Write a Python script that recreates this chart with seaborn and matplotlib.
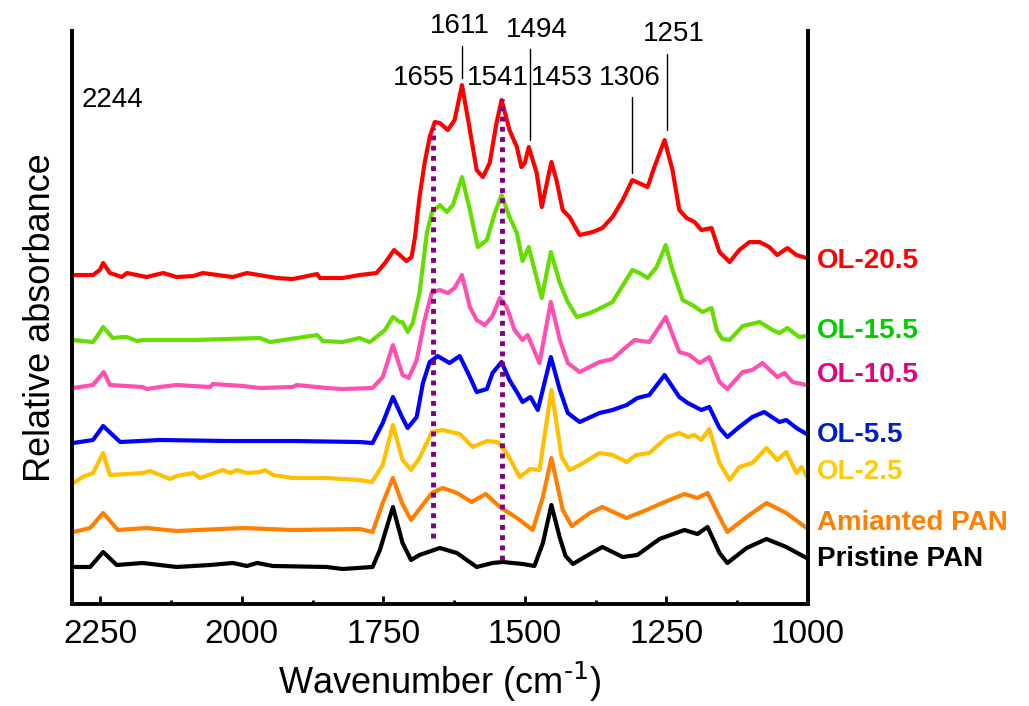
import pandas as pd
import matplotlib
matplotlib.use('Agg')
import matplotlib.pyplot as plt
import seaborn as sns

# FTIR spectra (wavenumber in cm-1, offset absorbance in a.u.)
pristine_wn = [2298, 2268, 2245, 2221, 2175, 2115, 2056, 2016, 1991, 1973, 1945, 1850, 1822, 1769,
               1756, 1733, 1716, 1701, 1686, 1650, 1620, 1585, 1557, 1539, 1504, 1483, 1468, 1453,
               1438, 1428, 1415, 1385, 1363, 1327, 1301, 1262, 1218, 1195, 1177, 1156, 1142, 1108,
               1073, 1038, 1002]
pristine_abs = [.37, .37, .52, .39, .41, .37, .39, .41, .38, .41, .38, .37, .35, .37,
                .54, .97, .61, .44, .49, .56, .51, .37, .41, .42, .40, .38, .61, .99,
                .66, .48, .40, .50, .57, .47, .49, .65, .74, .70, .77, .51, .41, .56,
                .65, .57, .46]

amianted_wn = [2298, 2268, 2245, 2219, 2168, 2115, 1998, 1910, 1792, 1769, 1751, 1733, 1717, 1701,
               1664, 1645, 1620, 1594, 1569, 1544, 1514, 1486, 1468, 1453, 1433, 1417, 1385, 1363,
               1320, 1285, 1257, 1218, 1195, 1177, 1156, 1142, 1108, 1073, 1038, 1002]
amianted_abs = [.72, .76, .91, .74, .76, .73, .76, .74, .75, .72, 1.01, 1.26, 1.01, .84,
                1.11, 1.16, 1.11, 1.02, 1.10, .97, .86, .74, 1.07, 1.46, .94, .78, .91, .97,
                .86, .94, 1.01, 1.10, 1.06, 1.11, .87, .72, .87, 1.01, .91, .76]

ol25_wn = [2298, 2281, 2263, 2245, 2233, 2175, 2162, 2127, 2115, 2086, 2074, 2033, 2021, 2009,
           1991, 1968, 1959, 1945, 1910, 1850, 1792, 1770, 1751, 1733, 1716, 1701, 1686, 1664,
           1645, 1615, 1592, 1567, 1548, 1532, 1509, 1491, 1474, 1453, 1435, 1421, 1403, 1368,
           1345, 1320, 1303, 1280, 1248, 1227, 1212, 1200, 1188, 1174, 1156, 1138, 1121, 1098,
           1073, 1054, 1038, 1020, 1011, 1002]
ol25_abs = [1.21, 1.27, 1.31, 1.51, 1.29, 1.31, 1.33, 1.25, 1.28, 1.31, 1.26, 1.34, 1.31, 1.34,
            1.31, 1.32, 1.34, 1.29, 1.26, 1.26, 1.24, 1.22, 1.39, 1.79, 1.44, 1.34, 1.46, 1.72,
            1.74, 1.70, 1.57, 1.63, 1.62, 1.51, 1.27, 1.35, 1.34, 2.14, 1.47, 1.34, 1.39, 1.51,
            1.49, 1.42, 1.49, 1.51, 1.67, 1.71, 1.67, 1.69, 1.64, 1.75, 1.41, 1.24, 1.37, 1.41,
            1.56, 1.44, 1.52, 1.31, 1.37, 1.28]

ol55_wn = [2298, 2263, 2245, 2215, 2145, 2026, 1910, 1792, 1769, 1751, 1733, 1717, 1707, 1691,
           1680, 1668, 1654, 1633, 1615, 1597, 1585, 1567, 1557, 1541, 1527, 1513, 1504, 1490,
           1477, 1454, 1438, 1424, 1403, 1368, 1345, 1320, 1301, 1280, 1253, 1227, 1212, 1188,
           1174, 1156, 1142, 1121, 1098, 1077, 1050, 1038, 1020, 1002]
ol55_abs = [1.61, 1.64, 1.78, 1.62, 1.64, 1.63, 1.63, 1.62, 1.61, 1.81, 2.07, 1.87, 1.76, 1.87,
            2.21, 2.42, 2.48, 2.41, 2.48, 2.27, 2.12, 2.15, 2.31, 2.42, 2.24, 2.11, 2.02, 2.07,
            1.94, 2.47, 2.14, 1.91, 1.82, 1.91, 1.94, 1.99, 2.06, 2.09, 2.29, 2.07, 2.01, 1.94,
            1.97, 1.76, 1.67, 1.77, 1.87, 1.92, 1.82, 1.84, 1.76, 1.70]

ol105_wn = [2298, 2263, 2244, 2233, 2175, 2168, 2145, 2115, 2056, 2051, 1998, 1968, 1910, 1903,
            1850, 1822, 1769, 1751, 1733, 1716, 1705, 1691, 1677, 1664, 1650, 1636, 1624, 1611,
            1597, 1585, 1571, 1558, 1544, 1532, 1518, 1504, 1495, 1474, 1454, 1438, 1424, 1403,
            1368, 1345, 1327, 1306, 1280, 1251, 1227, 1209, 1191, 1174, 1156, 1142, 1115, 1098,
            1080, 1054, 1041, 1027, 1002]
ol105_abs = [2.16, 2.19, 2.32, 2.19, 2.17, 2.15, 2.17, 2.19, 2.17, 2.20, 2.18, 2.16, 2.17, 2.19,
             2.16, 2.15, 2.16, 2.27, 2.59, 2.29, 2.26, 2.44, 2.84, 3.12, 3.14, 3.11, 3.16, 3.29,
             2.97, 2.84, 2.79, 2.87, 3.06, 2.97, 2.74, 2.64, 2.69, 2.41, 3.02, 2.64, 2.41, 2.32,
             2.42, 2.45, 2.54, 2.64, 2.62, 2.87, 2.52, 2.49, 2.41, 2.47, 2.22, 2.15, 2.32, 2.34,
             2.41, 2.27, 2.31, 2.22, 2.19]

ol155_wn = [2298, 2263, 2254, 2245, 2228, 2210, 2203, 2185, 2175, 2086, 1968, 1950, 1867, 1857,
            1822, 1792, 1774, 1769, 1747, 1733, 1721, 1716, 1707, 1698, 1686, 1673, 1664, 1650,
            1638, 1627, 1611, 1597, 1583, 1567, 1553, 1541, 1527, 1514, 1504, 1493, 1470, 1454,
            1438, 1424, 1408, 1385, 1373, 1345, 1310, 1297, 1283, 1267, 1251, 1239, 1221, 1204,
            1186, 1170, 1161, 1151, 1138, 1115, 1085, 1062, 1050, 1036, 1015, 1002]
ol155_abs = [2.64, 2.62, 2.69, 2.77, 2.66, 2.67, 2.67, 2.63, 2.64, 2.64, 2.66, 2.62, 2.69, 2.63,
             2.62, 2.66, 2.62, 2.64, 2.74, 2.87, 2.82, 2.82, 2.72, 2.81, 3.11, 3.71, 3.92, 3.99,
             3.92, 3.99, 4.27, 3.94, 3.57, 3.64, 3.91, 4.09, 3.87, 3.71, 3.43, 3.57, 3.06, 3.52,
             3.21, 3.02, 2.87, 2.91, 2.94, 3.02, 3.34, 3.31, 3.26, 3.37, 3.59, 3.34, 3.04, 2.99,
             2.92, 2.96, 2.74, 2.65, 2.64, 2.78, 2.82, 2.74, 2.71, 2.76, 2.67, 2.68]

ol205_wn = [2298, 2263, 2251, 2245, 2233, 2212, 2203, 2168, 2139, 2115, 2086, 2069, 2016, 1991,
            1938, 1910, 1867, 1862, 1822, 1792, 1762, 1747, 1731, 1721, 1709, 1700, 1694, 1686,
            1677, 1668, 1659, 1650, 1636, 1624, 1611, 1597, 1585, 1574, 1562, 1550, 1541, 1527,
            1514, 1506, 1500, 1493, 1479, 1470, 1453, 1444, 1433, 1421, 1403, 1380, 1363, 1345,
            1327, 1310, 1283, 1271, 1253, 1239, 1227, 1214, 1200, 1188, 1170, 1156, 1138, 1121,
            1103, 1085, 1068, 1054, 1036, 1020, 1002]
ol205_abs = [3.29, 3.29, 3.34, 3.41, 3.31, 3.27, 3.31, 3.27, 3.31, 3.27, 3.28, 3.31, 3.27, 3.31,
             3.26, 3.25, 3.30, 3.26, 3.26, 3.29, 3.31, 3.41, 3.54, 3.49, 3.43, 3.47, 3.67, 4.07,
             4.41, 4.67, 4.82, 4.81, 4.74, 4.84, 5.19, 4.74, 4.34, 4.27, 4.41, 4.81, 5.04, 4.74,
             4.57, 4.37, 4.41, 4.57, 4.31, 3.97, 4.42, 4.24, 3.94, 3.87, 3.69, 3.72, 3.76, 3.87,
             4.04, 4.24, 4.17, 4.37, 4.64, 4.34, 3.94, 3.86, 3.82, 3.74, 3.76, 3.52, 3.42, 3.54,
             3.62, 3.62, 3.57, 3.49, 3.56, 3.49, 3.46]

samples = ['Pristine PAN', 'Amianted PAN', 'OL-2.5', 'OL-5.5', 'OL-10.5', 'OL-15.5', 'OL-20.5']
line_colors = ['#000000', '#FF8000', '#FFC000', '#0000FF', '#FF4FB0', '#66DD00', '#FF0000']
label_colors = ['#000000', '#FF8000', '#FFCC00', '#0020C0', '#E6007E', '#00CC00', '#FF0000']
label_y = [0.45, 0.81, 1.32, 1.69, 2.29, 2.73, 3.43]

peak_labels = ['2244', '1655', '1611', '1541', '1494', '1453', '1306', '1251']
peak_text_x = [2229, 1679, 1615, 1548, 1479, 1435, 1315, 1237]
peak_text_y = [5.04, 5.26, 5.78, 5.26, 5.74, 5.26, 5.26, 5.70]
# leader lines: wavenumber, top, bottom
leader_wn = [1611, 1491, 1310, 1248]
leader_top = [5.58, 5.55, 5.07, 5.50]
leader_bot = [5.26, 4.64, 4.31, 4.74]
# dotted guides
guide_wn = [1663, 1541]
guide_top = [4.76, 5.05]
guide_bot = [0.66, 0.44]

spectra = [(pristine_wn, pristine_abs), (amianted_wn, amianted_abs), (ol25_wn, ol25_abs),
           (ol55_wn, ol55_abs), (ol105_wn, ol105_abs), (ol155_wn, ol155_abs), (ol205_wn, ol205_abs)]
frames = []
for name, (wn, ab) in zip(samples, spectra):
    frames.append(pd.DataFrame({'wn': wn, 'abs': ab, 'sample': name}))
df = pd.concat(frames, ignore_index=True)

sns.set_theme(style='white')
plt.rcParams['font.family'] = ['Liberation Sans', 'DejaVu Sans']
plt.rcParams['mathtext.default'] = 'regular'
plt.rcParams['text.color'] = 'black'
plt.rcParams['axes.labelcolor'] = 'black'
plt.rcParams['xtick.color'] = 'black'

fig = plt.figure(figsize=(10.29, 7.06), dpi=100)
ax = fig.add_axes([0.070, 0.1445, 0.715, 0.8115])

sns.lineplot(data=df, x='wn', y='abs', hue='sample', palette=dict(zip(samples, line_colors)),
             sort=True, estimator=None, linewidth=3, legend=False, ax=ax)

for x, t, b in zip(guide_wn, guide_top, guide_bot):
    ax.plot([x, x], [b, t], color='#800080', lw=3.5, linestyle=(0, (1, 1.1)), solid_capstyle='butt')
for x, t, b in zip(leader_wn, leader_top, leader_bot):
    ax.plot([x, x], [b, t], color='black', lw=1, clip_on=False)
for s, x, y in zip(peak_labels, peak_text_x, peak_text_y):
    ax.text(x, y, s, fontsize=20, ha='center', va='center', clip_on=False)
for s, c, y in zip(samples, label_colors, label_y):
    ax.text(1.012, y, s, color=c, fontsize=20, fontweight='bold', ha='left', va='center',
            transform=ax.get_yaxis_transform(), clip_on=False)

ax.set_xlim(2300, 1000)
ax.set_ylim(0, 5.73)
ax.set_xticks([2250, 2000, 1750, 1500, 1250, 1000])
ax.set_xticks([2125, 1875, 1625, 1375, 1125], minor=True)
ax.set_yticks([])
ax.tick_params(axis='x', which='major', direction='in', length=6, width=2, labelsize=24, pad=11,
               bottom=True)
ax.tick_params(axis='x', which='minor', direction='in', length=3, width=2, bottom=True)
ax.set_xlabel('Wavenumber (cm$^{\\text{-1}}$)', fontsize=26, labelpad=7)
ax.set_ylabel('Relative absorbance', fontsize=26, labelpad=10)
ax.spines['top'].set_visible(False)
for side in ['left', 'right', 'bottom']:
    ax.spines[side].set_linewidth(2.8)
    ax.spines[side].set_color('black')

fig.savefig('out.png', dpi=100)
